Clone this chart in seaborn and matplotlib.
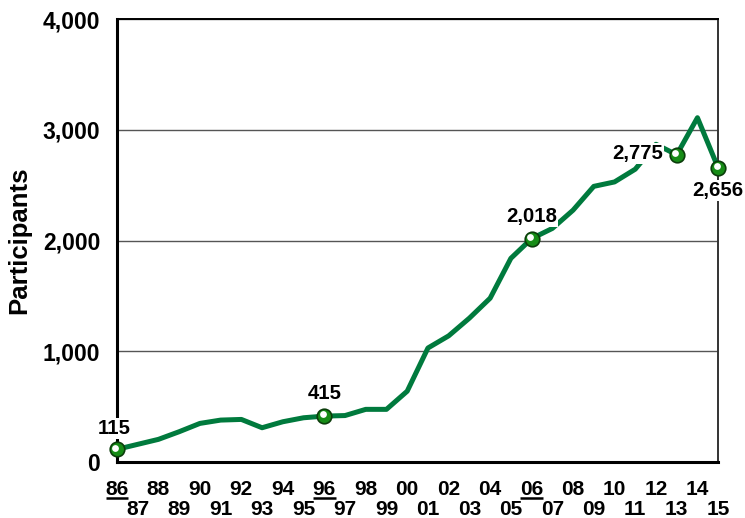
import matplotlib
matplotlib.use("Agg")

import matplotlib.pyplot as plt
import matplotlib.transforms as mtransforms
import seaborn as sns
import pandas as pd


# =========================
# DATA
# =========================

years = list(range(1986, 2016))

participants = [
    115, 160, 205, 274, 349, 379, 385, 310, 364, 400,
    415, 420, 476, 476, 640, 1030, 1140, 1300, 1480, 1840,
    2018, 2110, 2275, 2490, 2530, 2645, 2870, 2775, 3110, 2656
]

marked_years = [1986, 1996, 2006, 2013, 2015]
marked_labels = ["115", "415", "2,018", "2,775", "2,656"]

underlined_years = [1986, 1996, 2006]

y_ticks = [0, 1000, 2000, 3000, 4000]
y_tick_labels = ["0", "1,000", "2,000", "3,000", "4,000"]

df = pd.DataFrame({"year": years, "participants": participants})
marked = df[df["year"].isin(marked_years)]


# =========================
# STYLE
# =========================

sns.set_style("white")
plt.rcParams["font.family"] = ["Liberation Sans", "DejaVu Sans"]
plt.rcParams["font.weight"] = "bold"
plt.rcParams["text.color"] = "black"
plt.rcParams["xtick.color"] = "black"
plt.rcParams["ytick.color"] = "black"
plt.rcParams["axes.labelcolor"] = "black"

green = "#007A3D"


# =========================
# PLOT
# =========================

fig = plt.figure(figsize=(7.45, 5.18), dpi=100)
ax = fig.add_axes([0.157, 0.108, 0.807, 0.855])

sns.lineplot(
    data=df,
    x="year",
    y="participants",
    color=green,
    linewidth=3.6,
    ax=ax,
    zorder=3
)

sns.scatterplot(
    data=marked,
    x="year",
    y="participants",
    s=110,
    color="#168C16",
    edgecolor="#0B3D0B",
    linewidth=1.2,
    ax=ax,
    zorder=5,
    clip_on=False
)

# white highlight on the balls
hl = mtransforms.offset_copy(ax.transData, fig=fig, x=-1.2, y=1.2, units="points")
ax.scatter(
    marked["year"],
    marked["participants"],
    s=24,
    color="white",
    linewidth=0,
    transform=hl,
    zorder=6,
    clip_on=False
)

# value labels
offsets = {
    1986: (-2, 15, "center", "center"),
    1996: (0, 16, "center", "center"),
    2006: (0, 16, "center", "center"),
    2013: (-10, 1, "right", "center"),
    2015: (0, -16, "center", "center"),
}

for yr, lab in zip(marked_years, marked_labels):
    val = participants[years.index(yr)]
    dx, dy, ha, va = offsets[yr]
    ax.annotate(
        lab,
        xy=(yr, val),
        xytext=(dx, dy),
        textcoords="offset points",
        ha=ha,
        va=va,
        fontsize=14.7,
        fontweight="bold",
        color="black",
        bbox=dict(boxstyle="square,pad=0.05", fc="white", ec="none"),
        zorder=4,
        annotation_clip=False
    )


# =========================
# AXES
# =========================

ax.set_xlim(1986, 2015)
ax.set_ylim(0, 4000)

ax.set_yticks(y_ticks)
ax.set_yticklabels(y_tick_labels, fontsize=16.5, fontweight="bold")
ax.tick_params(axis="y", length=0, pad=12)

even_years = [y for y in years if y % 2 == 0]
odd_years = [y for y in years if y % 2 == 1]

ax.set_xticks(even_years)
ax.set_xticklabels([f"{y % 100:02d}" for y in even_years], fontsize=15, fontweight="bold")
ax.set_xticks(odd_years, minor=True)
ax.set_xticklabels([f"{y % 100:02d}" for y in odd_years], minor=True, fontsize=15, fontweight="bold")

ax.tick_params(axis="x", which="major", direction="in", length=14, width=1.8, color="black", pad=13)
ax.tick_params(axis="x", which="minor", direction="in", length=14, width=1.8, color="black", pad=27)

# underline selected year labels
ul = mtransforms.blended_transform_factory(ax.transData, ax.transAxes)
for yr in underlined_years:
    ax.plot([yr - 0.55, yr + 0.55], [-0.082, -0.082], color="black", lw=1.8,
            transform=ul, clip_on=False, solid_capstyle="butt")

ax.set_xlabel("")
ax.set_ylabel("Participants", fontsize=18.5, fontweight="bold", labelpad=8)

ax.grid(axis="y", color="#555555", linewidth=1)
ax.grid(axis="x", visible=False)
ax.set_axisbelow(True)

ax.spines["left"].set_linewidth(2.2)
ax.spines["bottom"].set_linewidth(2.2)
ax.spines["top"].set_linewidth(1.4)
ax.spines["right"].set_linewidth(1.4)
for s in ax.spines.values():
    s.set_color("black")
ax.spines["right"].set_color("#333333")

fig.savefig("out.png", dpi=100)
plt.close(fig)
